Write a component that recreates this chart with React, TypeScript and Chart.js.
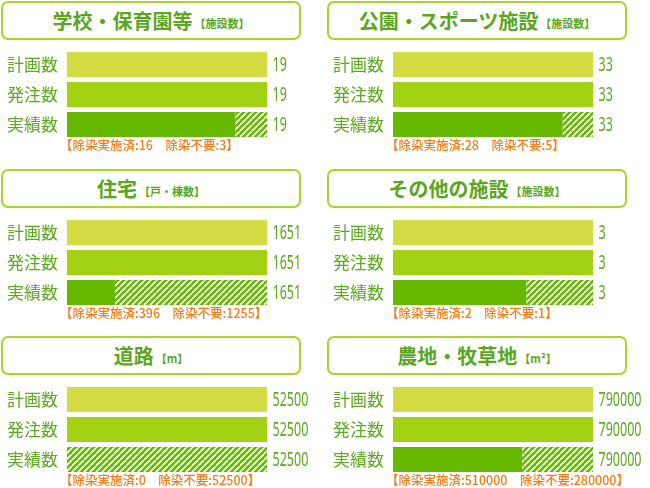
import React, { useEffect, useRef } from "react";
import { Chart, registerables } from "chart.js";

Chart.register(...registerables);

const categories = ["計画数", "発注数", "実績数"];
const panelTitles = ["学校・保育園等", "公園・スポーツ施設", "住宅", "その他の施設", "道路", "農地・牧草地"];
const panelUnits = ["【施設数】", "【施設数】", "【戸・棟数】", "【施設数】", "【m】", "【m²】"];
const planValues = [19, 33, 1651, 3, 52500, 790000];
const orderValues = [19, 33, 1651, 3, 52500, 790000];
const doneValues = [16, 28, 396, 2, 0, 510000];
const notNeededValues = [3, 5, 1255, 1, 52500, 280000];

const C = {
  plan: "#d3dc42",
  order: "#a3d113",
  done: "#66b900",
  text: "#5ca81e",
  title: "#5aa61c",
  note: "#f07d1a",
  border: "#a9d42a",
};

const CJK = '"Noto Sans CJK JP", "Noto Sans", sans-serif';
const NUM = '"Noto Sans", "DejaVu Sans", sans-serif';

function makeHatch(): CanvasPattern | string {
  const c = document.createElement("canvas");
  c.width = 6;
  c.height = 6;
  const ctx = c.getContext("2d");
  if (!ctx) return C.done;
  ctx.fillStyle = C.done;
  ctx.fillRect(0, 0, 6, 6);
  ctx.strokeStyle = "#ffffff";
  ctx.lineWidth = 1.6;
  for (const x0 of [-6, 0, 6]) {
    ctx.beginPath();
    ctx.moveTo(x0, 6);
    ctx.lineTo(x0 + 6, 0);
    ctx.stroke();
  }
  return ctx.createPattern(c, "repeat") || C.done;
}

function Panel({ i, left, top }: { i: number; left: number; top: number }) {
  const ref = useRef<HTMLCanvasElement | null>(null);
  useEffect(() => {
    if (!ref.current) return;
    const totals = [planValues[i], orderValues[i], doneValues[i] + notNeededValues[i]];
    const chart = new Chart(ref.current, {
      type: "bar",
      data: {
        labels: categories,
        datasets: [
          {
            label: "実施済",
            data: [planValues[i], orderValues[i], doneValues[i]],
            backgroundColor: [C.plan, C.order, C.done],
            borderWidth: 0,
            categoryPercentage: 1,
            barPercentage: 25 / 30,
          },
          {
            label: "除染不要",
            data: [0, 0, notNeededValues[i]],
            backgroundColor: makeHatch(),
            borderWidth: 0,
            categoryPercentage: 1,
            barPercentage: 25 / 30,
          },
        ],
      },
      options: {
        indexAxis: "y",
        responsive: false,
        animation: false,
        layout: { padding: { left: 0, right: 53, top: 2.5, bottom: 2.5 } },
        plugins: { legend: { display: false }, tooltip: { enabled: false } },
        scales: {
          x: { display: false, stacked: true, min: 0, max: planValues[i] },
          y: {
            stacked: true,
            grid: { display: false, drawTicks: false },
            border: { display: false },
            ticks: { color: C.text, font: { family: CJK, size: 17 }, padding: 9 },
            afterFit: (scale: any) => {
              scale.width = 67;
              scale.paddingTop = 0;
              scale.paddingBottom = 0;
            },
          },
        },
      },
      plugins: [
        {
          id: "valueLabels",
          afterDatasetsDraw(ch: any) {
            const { ctx, chartArea } = ch;
            const meta = ch.getDatasetMeta(0);
            const sx = 0.66;
            ctx.save();
            ctx.font = `19px ${NUM}`;
            ctx.fillStyle = C.text;
            ctx.textAlign = "left";
            ctx.textBaseline = "middle";
            meta.data.forEach((bar: any, k: number) => {
              ctx.save();
              ctx.translate(chartArea.right + 5.5, bar.y + 1);
              ctx.scale(sx, 1);
              ctx.fillText(String(totals[k]), 0, 0);
              ctx.restore();
            });
            ctx.restore();
          },
        },
      ],
    } as any);
    return () => chart.destroy();
  }, [i]);

  return (
    <>
      <div
        style={{
          position: "absolute",
          left: left + 1,
          top: top + 1,
          width: 300,
          height: 39,
          boxSizing: "border-box",
          border: `2.5px solid ${C.border}`,
          borderRadius: 7,
          background: "#fff",
          display: "flex",
          alignItems: "center",
          justifyContent: "center",
          fontFamily: CJK,
          color: C.title,
        }}
      >
        <span style={{ fontSize: 20, fontWeight: 700, lineHeight: "24px" }}>{panelTitles[i]}</span>
        <span style={{ fontSize: 11, fontWeight: 700, lineHeight: "24px", marginLeft: 2, marginTop: 4 }}>
          {panelUnits[i]}
        </span>
      </div>
      <canvas
        ref={ref}
        width={320}
        height={95}
        style={{ position: "absolute", left, top: top + 47, width: 320, height: 95 }}
      />
      <div
        style={{
          position: "absolute",
          left: left + 60,
          top: top + 137,
          fontFamily: CJK,
          fontSize: 12.5,
          fontWeight: 500,
          lineHeight: "15px",
          color: C.note,
          whiteSpace: "nowrap",
        }}
      >
        {`【除染実施済:${doneValues[i]}　除染不要:${notNeededValues[i]}】`}
      </div>
    </>
  );
}

export default function App() {
  const positions = [
    [0, 0],
    [326, 0],
    [0, 168],
    [326, 168],
    [0, 335],
    [326, 335],
  ];
  return (
    <div
      style={{
        position: "fixed",
        left: 0,
        top: 0,
        width: 650,
        height: 488,
        background: "#fff",
        overflow: "hidden",
      }}
    >
      {positions.map(([l, t], i) => (
        <Panel key={i} i={i} left={l} top={t} />
      ))}
    </div>
  );
}
